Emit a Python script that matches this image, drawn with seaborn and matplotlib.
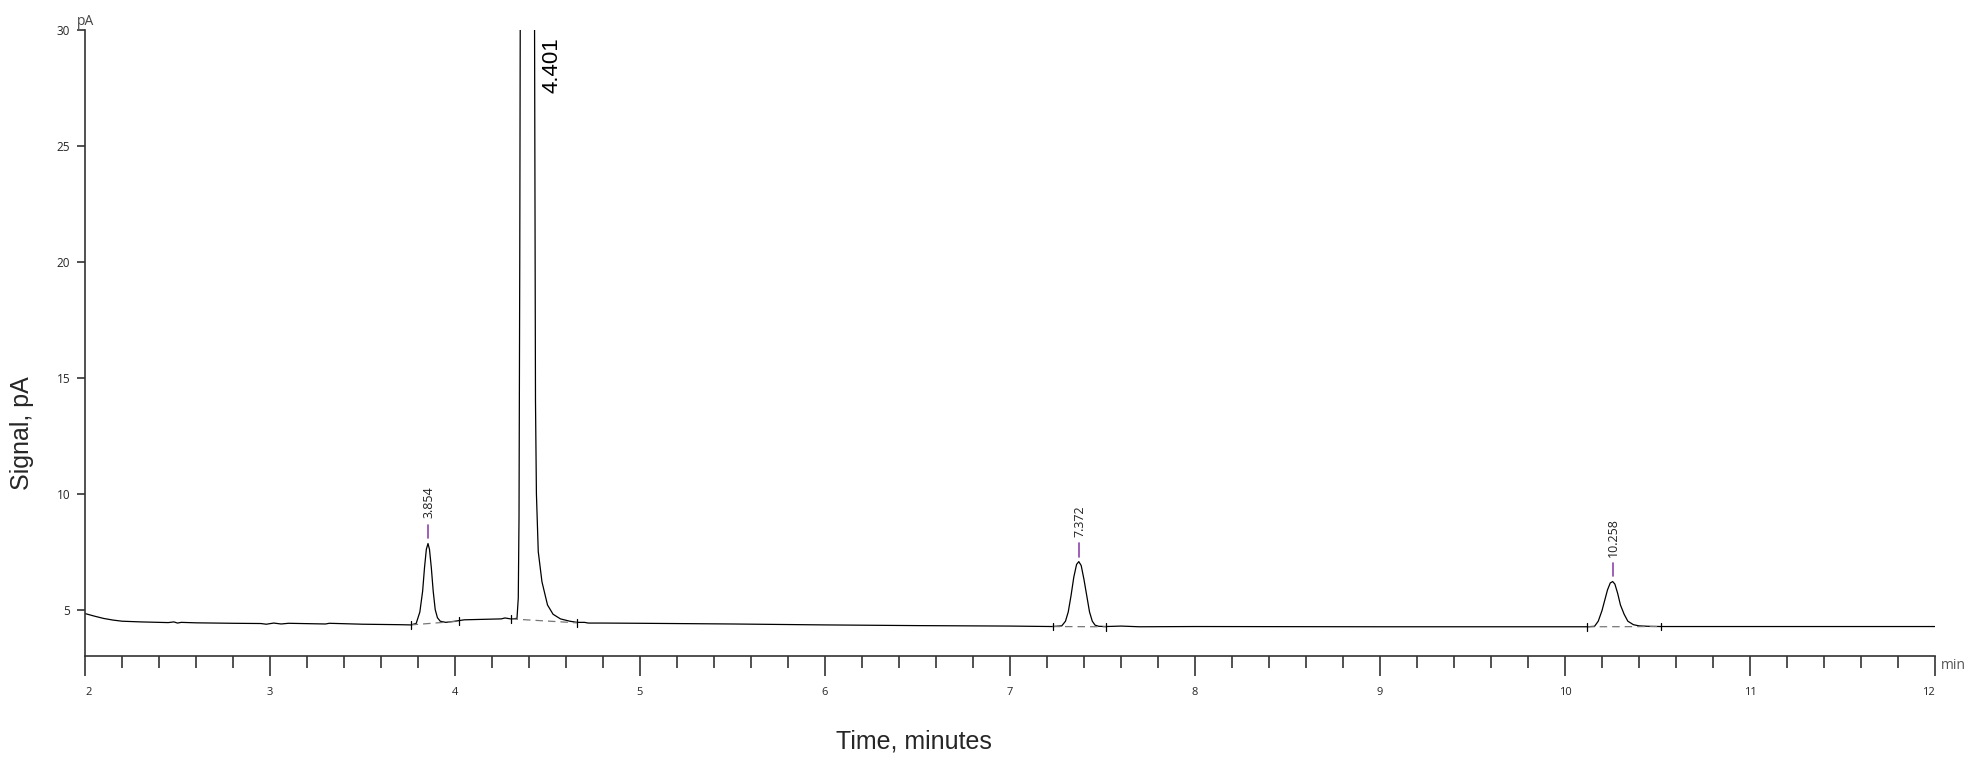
import numpy as np
import pandas as pd
import seaborn as sns
import matplotlib.pyplot as plt
from matplotlib.ticker import MultipleLocator

# signal trace
t = [2.00, 2.05, 2.10, 2.15, 2.20, 2.30, 2.45, 2.48, 2.50, 2.52, 2.60, 2.80, 2.95, 2.98, 3.02, 3.06, 3.10, 3.30, 3.32, 3.50, 3.70, 3.76,
     3.79, 3.81, 3.825, 3.835, 3.845, 3.854, 3.862, 3.872, 3.882, 3.893, 3.905, 3.92, 3.95, 4.00, 4.05,
     4.15, 4.25, 4.27, 4.30, 4.335, 4.342, 4.346, 4.35, 4.355, 4.37, 4.401, 4.42, 4.43, 4.435, 4.44,
     4.45, 4.47, 4.50, 4.53, 4.57, 4.62, 4.66, 4.70, 4.72, 4.80, 5.00, 5.50, 6.00, 6.50, 7.00, 7.23,
     7.28, 7.30, 7.315, 7.33, 7.345, 7.36, 7.372, 7.385, 7.40, 7.415, 7.43, 7.445, 7.46, 7.48, 7.52,
     7.60, 7.70, 8.00, 9.00, 10.00, 10.12,
     10.16, 10.18, 10.20, 10.215, 10.23, 10.245, 10.258, 10.27, 10.285, 10.30, 10.32, 10.34, 10.37, 10.40, 10.45,
     10.52, 11.00, 12.00]
signal = [4.83, 4.72, 4.62, 4.55, 4.50, 4.47, 4.44, 4.47, 4.42, 4.45, 4.43, 4.41, 4.40, 4.37, 4.42, 4.38, 4.41, 4.38, 4.41, 4.37, 4.35, 4.34,
          4.40, 4.90, 5.80, 6.80, 7.60, 7.85, 7.60, 6.80, 5.80, 5.00, 4.65, 4.50, 4.45, 4.50, 4.56,
          4.58, 4.60, 4.64, 4.60, 4.62, 5.50, 9.0, 20.0, 40.0, 120.0, 200.0, 80.0, 30.0, 14.0, 10.0,
          7.5, 6.2, 5.2, 4.8, 4.6, 4.5, 4.45, 4.45, 4.42, 4.42, 4.41, 4.38, 4.34, 4.31, 4.29, 4.27,
          4.30, 4.50, 4.90, 5.60, 6.40, 6.95, 7.07, 6.90, 6.30, 5.60, 4.90, 4.50, 4.33, 4.28, 4.27,
          4.29, 4.26, 4.27, 4.26, 4.26, 4.26,
          4.28, 4.50, 4.95, 5.40, 5.85, 6.15, 6.21, 6.10, 5.70, 5.20, 4.80, 4.50, 4.35, 4.30, 4.28,
          4.27, 4.27, 4.27]

# peak table
peak_rt = [3.854, 4.401, 7.372, 10.258]
peak_top = [7.85, 200.0, 7.07, 6.21]
peak_names = ["3.854", "4.401", "7.372", "10.258"]

# integration baselines (start, end)
base_t0 = [3.76, 4.30, 7.23, 10.12]
base_t1 = [4.02, 4.66, 7.52, 10.52]
base_y0 = [4.34, 4.60, 4.27, 4.26]
base_y1 = [4.50, 4.43, 4.26, 4.27]

df = pd.DataFrame({"Time": t, "Signal": signal})

sns.set_style("white")
plt.rcParams['font.family'] = ['Open Sans', 'DejaVu Sans']

fig = plt.figure(figsize=(19.73, 7.61), dpi=100)
ax = fig.add_axes([0.0431, 0.138, 0.9376, 0.8226])

sns.lineplot(data=df, x="Time", y="Signal", ax=ax, color="black", linewidth=0.9,
             estimator=None, sort=False)

# integration baselines with start/end marks
for i in range(len(base_t0)):
    ax.plot([base_t0[i], base_t1[i]], [base_y0[i], base_y1[i]], color="#777777",
            linewidth=0.9, linestyle=(0, (6, 4)))
    ax.plot([base_t0[i], base_t0[i]], [base_y0[i] - 0.17, base_y0[i] + 0.17], color="black", linewidth=0.9)
    ax.plot([base_t1[i], base_t1[i]], [base_y1[i] - 0.17, base_y1[i] + 0.17], color="black", linewidth=0.9)

# peak labels
for i in range(len(peak_rt)):
    if peak_top[i] > 30:
        ax.text(peak_rt[i] + 0.123, 29.7, peak_names[i], rotation=90, ha="center", va="top",
                fontsize=16, family=["Liberation Sans", "DejaVu Sans"], color="black")
    else:
        ax.plot([peak_rt[i], peak_rt[i]], [peak_top[i] + 0.22, peak_top[i] + 0.82],
                color="#8e44ad", linewidth=1.2)
        ax.text(peak_rt[i] + 0.005, peak_top[i] + 1.08, peak_names[i], rotation=90,
                ha="center", va="bottom", fontsize=9, color="#222222")

ax.set_xlim(2, 12)
ax.set_ylim(3, 30)
ax.xaxis.set_major_locator(MultipleLocator(1))
ax.xaxis.set_minor_locator(MultipleLocator(0.2))
ax.yaxis.set_major_locator(MultipleLocator(5))
ax.set_yticks([5, 10, 15, 20, 25, 30])

for s in ["top", "right"]:
    ax.spines[s].set_visible(False)
for s in ["left", "bottom"]:
    ax.spines[s].set_color("#333333")
    ax.spines[s].set_linewidth(1.2)

ax.tick_params(axis="x", which="major", direction="out", length=14.5, width=1.2,
               color="#333333", labelsize=8, pad=8, bottom=True)
ax.tick_params(axis="x", which="minor", direction="out", length=8.6, width=1.2,
               color="#333333", bottom=True)
ax.tick_params(axis="y", which="major", direction="out", length=5.8, width=1.2,
               color="#333333", labelsize=8.5, pad=5, left=True)

labels = ax.get_xticklabels()
ax.set_xticks(range(2, 13))
ax.set_xticklabels([str(v) for v in range(2, 13)])
xl = ax.get_xticklabels()
xl[0].set_ha("left")
xl[-1].set_ha("right")

ax.set_xlabel("Time, minutes", fontsize=18, family=["Liberation Sans", "DejaVu Sans"], va="center")
ax.xaxis.set_label_coords(0.448, -0.137)
ax.set_ylabel("Signal, pA", fontsize=18, family=["Liberation Sans", "DejaVu Sans"], va="center")
ax.yaxis.set_label_coords(-0.034, 0.356)

ax.annotate("pA", xy=(0, 1), xycoords="axes fraction", xytext=(0, 1), textcoords="offset points",
            ha="center", va="bottom", fontsize=10, color="#444444")
ax.annotate("min", xy=(1, 0), xycoords="axes fraction", xytext=(4, -7), textcoords="offset points",
            ha="left", va="center", fontsize=10, color="#555555")

fig.savefig("out.png", dpi=100)
